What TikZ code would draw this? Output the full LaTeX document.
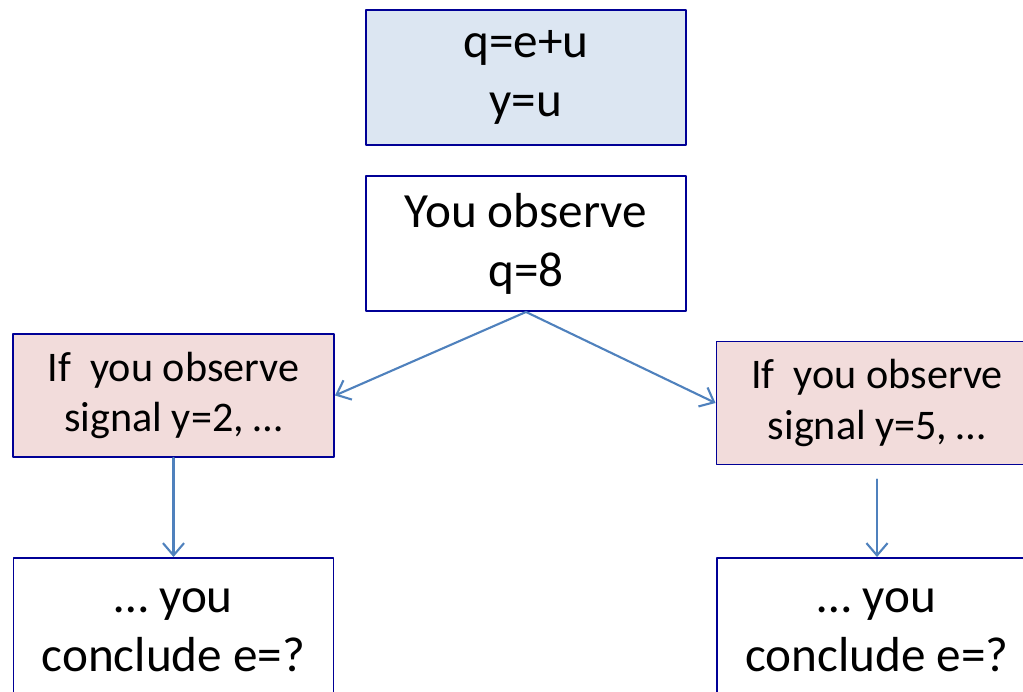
\documentclass[tikz,border=0pt]{standalone}
\usepackage{fontspec}
\setmainfont{Carlito}
\usetikzlibrary{arrows.meta}
\definecolor{boxline}{RGB}{0,0,150}
\definecolor{modelfill}{RGB}{220,230,242}
\definecolor{signalfill}{RGB}{242,220,219}
\definecolor{arrowblue}{RGB}{79,129,189}
\begin{document}
\begin{tikzpicture}[line cap=round, line join=round,
		box/.style={draw=boxline, line width=1.1pt, fill=white, align=center, inner sep=0pt,
			minimum width=6.4cm, minimum height=2.7cm, font=\fontsize{28}{33.6}\selectfont},
		signalbox/.style={box, fill=signalfill, minimum width=6.42cm, minimum height=2.46cm,
			font=\fontsize{24}{29}\selectfont},
		flow/.style={draw=arrowblue, line width=1.2pt, -{Straight Barb[length=7pt, width=12pt]}}]
	\useasboundingbox (0,0) rectangle (20.46,13.82);
	% model and observation
	\node[box, fill=modelfill] (model) at (10.52,12.27) {q=e+u\\y=u};
	\node[box] (observe) at (10.52,8.95) {You observe\\q=8};

	% the two signals
	\node[signalbox] (sigleft) at (3.47,5.91) {If~ you observe\\signal y=2, \dots};
	\node[signalbox] (sigright) at (17.54,5.76) {If~ you observe\\signal y=5, \dots};

	% conclusions
	\node[box, minimum height=2.9cm] (endleft) at (3.47,1.21) {\dots{} you\\conclude e=?};
	\node[box, minimum height=2.9cm] (endright) at (17.54,1.21) {\dots{} you\\conclude e=?};

	\draw[flow] (observe.south) -- (sigleft.east);
	\draw[flow] (observe.south) -- (sigright.west);
	\draw[flow] (sigleft.south) -- (endleft.north);
	\draw[flow, shorten <=0.28cm] (sigright.south) -- (endright.north);
\end{tikzpicture}
\end{document}
